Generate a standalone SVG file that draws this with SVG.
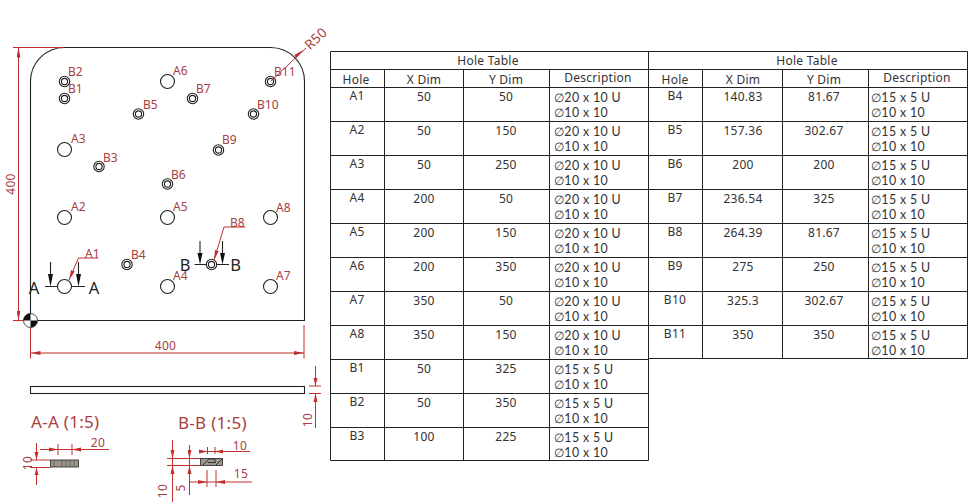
<svg xmlns="http://www.w3.org/2000/svg" width="972" height="502" viewBox="0 0 972 502">
<style>
text{font-family:"Noto Sans","Liberation Sans",sans-serif}
.obj{fill:none;stroke:#222;stroke-width:1.1}
.dim{fill:none;stroke:#c0302f;stroke-width:1}
.ah{fill:#c0302f;stroke:none}
.lbl{font-size:12px;fill:#a8403f}
.dt{font-size:12px;fill:#a8403f;text-anchor:middle;letter-spacing:.3px}
.big{font-size:17px;fill:#a8403f;letter-spacing:.3px}
.sec{font-size:16.500px;fill:#222;text-anchor:middle}
.tb{fill:none;stroke:#222;stroke-width:1}
.c{font-size:12px;fill:#333;text-anchor:middle;letter-spacing:.25px}
.d{font-family:Lato,"Noto Sans",sans-serif;font-size:12.400px;fill:#333;letter-spacing:.35px}
.hatch{fill:#9c958c;stroke:#222;stroke-width:.8}
</style>
<defs>
<marker id="a" viewBox="0 0 10 4" refX="10" refY="2" markerWidth="10" markerHeight="4" orient="auto-start-reverse" markerUnits="userSpaceOnUse"><path d="M0 0L10 2L0 4Z" fill="#c0302f"/></marker>
<g id="holeA"><circle r="7" fill="#fff" stroke="#222" stroke-width="1.1"/></g>
<g id="holeB"><circle r="5.200" fill="#fff" stroke="#222" stroke-width="1.1"/><circle r="3.100" fill="#fff" stroke="#222" stroke-width="1.1"/></g>
</defs>

<g id="plate">
<path class="obj" d="M30.500 81.500A34 34 0 0 1 64.500 47.500H270.500A34 34 0 0 1 304.500 81.500V320.500H30.500Z"/>
<circle cx="30.500" cy="320.500" r="7" fill="#fff" stroke="#222" stroke-width=".8"/>
<path d="M30.500 320.500V313.500A7 7 0 0 0 23.500 320.500ZM30.500 320.500V327.500A7 7 0 0 0 37.500 320.500Z" fill="#111"/>
</g>

<g id="holes">
<use href="#holeA" x="64.500" y="286.500"/><use href="#holeA" x="64.500" y="217.500"/><use href="#holeA" x="64.500" y="149.500"/>
<use href="#holeA" x="167.500" y="286.500"/><use href="#holeA" x="167.500" y="217.500"/><use href="#holeA" x="167.500" y="81.500"/>
<use href="#holeA" x="270.500" y="286.500"/><use href="#holeA" x="270.500" y="217.500"/>
<use href="#holeB" x="64.500" y="98.500"/><use href="#holeB" x="64.500" y="81.500"/><use href="#holeB" x="99" y="166.500"/>
<use href="#holeB" x="127" y="264.500"/><use href="#holeB" x="138.500" y="114"/><use href="#holeB" x="167.500" y="184"/>
<use href="#holeB" x="192.500" y="98.500"/><use href="#holeB" x="211.500" y="264.500"/><use href="#holeB" x="218.500" y="150"/>
<use href="#holeB" x="253.500" y="114"/><use href="#holeB" x="270.500" y="81.500"/>
</g>

<g id="hole-labels">
<text class="lbl" x="68" y="76">B2</text><text class="lbl" x="68" y="93">B1</text><text class="lbl" x="173" y="75">A6</text>
<text class="lbl" x="196" y="93">B7</text><text class="lbl" x="274" y="76">B11</text><text class="lbl" x="143" y="109">B5</text>
<text class="lbl" x="257" y="109">B10</text><text class="lbl" x="71" y="143">A3</text><text class="lbl" x="222" y="144">B9</text>
<text class="lbl" x="103" y="162">B3</text><text class="lbl" x="171" y="179">B6</text><text class="lbl" x="71" y="211">A2</text>
<text class="lbl" x="173" y="211">A5</text><text class="lbl" x="276" y="212">A8</text><text class="lbl" x="230" y="227">B8</text>
<text class="lbl" x="85" y="258">A1</text><text class="lbl" x="131" y="259">B4</text><text class="lbl" x="173" y="280">A4</text><text class="lbl" x="276" y="280">A7</text>
</g>

<g id="section-marks">
<path class="obj" d="M45 286.500H57.500M72 286.500H85M194.500 264.500H206.500M216.500 264.500H229"/>
<path class="obj" d="M50.500 262V280M78.500 262V280M200 241V258M222.500 241V258"/>
<path d="M48 274H53L50.500 286.500ZM76 274H81L78.500 286.500ZM197.500 253H202.500L200 264.500ZM220 253H225L222.500 264.500Z" fill="#111"/>
<text class="sec" x="34" y="294">A</text><text class="sec" x="94" y="294">A</text><text class="sec" x="185" y="271">B</text><text class="sec" x="235.500" y="271">B</text>
</g>

<g id="connectors">
<path class="dim" d="M13 47.500H63M13 320.500H24"/>
<path class="dim" d="M18.500 47.500V320.500" marker-start="url(#a)" marker-end="url(#a)"/>
<path class="dim" d="M30.500 328V358.500M304 325V358.500"/>
<path class="dim" d="M30.500 353H304" marker-start="url(#a)" marker-end="url(#a)"/>
<path class="dim" d="M270.500 81.500L306 48"/>
<path d="M296 58.500L303 50L294.500 55Z" class="ah"/>
<path class="dim" d="M98.500 258H78.500L69 280" marker-end="url(#a)"/>
<path class="dim" d="M245.500 227H224L214 260" marker-end="url(#a)"/>
<text class="dt" x="165.500" y="350">400</text>
<text class="dt" transform="translate(15 184) rotate(-90)">400</text>
<text class="dt" transform="translate(319 42) rotate(-43)" style="font-size:13.500px">R50</text>
</g>

<g id="side-view">
<rect class="obj" x="30.500" y="386.500" width="274" height="7" stroke-width="1.300"/>
<path class="dim" d="M309 386H321M309 393.500H321M315.500 366V386M315.500 393.500V428"/>
<path d="M313.500 378H317.500L315.500 386ZM313.500 402H317.500L315.500 393.500Z" class="ah"/>
<text class="dt" transform="translate(312 420) rotate(-90)">10</text>
</g>

<g id="section-aa">
<text class="big" x="31" y="428">A-A (1:5)</text>
<rect class="hatch" x="50.500" y="460" width="28" height="7"/>
<path d="M54 460V467M62 460V467M66 460V467M70 460V467M74 460V467" stroke="#555" stroke-width=".7" fill="none"/>
<path class="dim" d="M58 444V455M72 444V455M40 449.500H109M30 460H50M30 467.500H50"/>
<path class="dim" d="M36.500 443V460M36.500 467.500V485"/>
<path d="M49 447.500L58 449.500L49 451.500ZM81 447.500L72 449.500L81 451.500ZM34.500 452L36.500 460L38.500 452ZM34.500 475L36.500 467.500L38.500 475Z" class="ah"/>
<text class="dt" x="98" y="447">20</text>
<text class="dt" transform="translate(32 463) rotate(-90)">10</text>
</g>

<g id="section-bb">
<text class="big" x="178" y="429">B-B (1:5)</text>
<rect class="hatch" x="200.500" y="458.500" width="22" height="7"/>
<path d="M203 465L209 459M216 465L222 459M208 462.500H216M209 459H215V462" fill="none" stroke="#222" stroke-width=".8"/>
<path class="dim" d="M207.500 447V454M215 447V454M200 451.500H250M167 458.500H200M167 465.500H200M172.500 440V502M189.500 445V495"/>
<path class="dim" d="M207 470V487M216 470V487M189.500 482H252"/>
<path d="M199 449.500L207.500 451.500L199 453.500ZM223 449.500L215 451.500L223 453.500ZM170.500 450L172.500 458.500L174.500 450ZM170.500 474L172.500 465.500L174.500 474ZM187.500 450L189.500 458.500L191.500 450ZM187.500 474L189.500 465.500L191.500 474ZM198 480L207 482L198 484ZM225 480L216 482L225 484Z" class="ah"/>
<text class="dt" x="240" y="450">10</text>
<text class="dt" x="241" y="478">15</text>
<text class="dt" transform="translate(167 491) rotate(-90)">10</text>
<text class="dt" transform="translate(185 488) rotate(-90)">5</text>
</g>

<g id="table-1">
<path class="tb" d="M330.500 51.500H648.500V460.500H330.500ZM330.500 69.500H648.500M330.500 87.500H648.500M330.500 121.500H648.500M330.500 155.500H648.500M330.500 189.500H648.500M330.500 223.500H648.500M330.500 257.500H648.500M330.500 291.500H648.500M330.500 325.500H648.500M330.500 359.500H648.500M330.500 393.500H648.500M330.500 427.500H648.500M384.500 69.500V460.500M463.500 69.500V460.500M549.500 69.500V460.500"/>
<text class="c" x="488" y="65">Hole Table</text>
<text class="c" x="356" y="84">Hole</text><text class="c" x="424" y="84">X Dim</text><text class="c" x="506" y="84">Y Dim</text><text class="c" x="598" y="82">Description</text>
<text class="c" x="357" y="100">A1</text><text class="c" x="424" y="101">50</text><text class="c" x="506" y="101">50</text><text class="d" x="554" y="102">∅20 x 10 U</text><text class="d" x="554" y="117">∅10 x 10</text>
<text class="c" x="357" y="134">A2</text><text class="c" x="424" y="135">50</text><text class="c" x="506" y="135">150</text><text class="d" x="554" y="136">∅20 x 10 U</text><text class="d" x="554" y="151">∅10 x 10</text>
<text class="c" x="357" y="168">A3</text><text class="c" x="424" y="169">50</text><text class="c" x="506" y="169">250</text><text class="d" x="554" y="170">∅20 x 10 U</text><text class="d" x="554" y="185">∅10 x 10</text>
<text class="c" x="357" y="202">A4</text><text class="c" x="424" y="203">200</text><text class="c" x="506" y="203">50</text><text class="d" x="554" y="204">∅20 x 10 U</text><text class="d" x="554" y="219">∅10 x 10</text>
<text class="c" x="357" y="236">A5</text><text class="c" x="424" y="237">200</text><text class="c" x="506" y="237">150</text><text class="d" x="554" y="238">∅20 x 10 U</text><text class="d" x="554" y="253">∅10 x 10</text>
<text class="c" x="357" y="270">A6</text><text class="c" x="424" y="271">200</text><text class="c" x="506" y="271">350</text><text class="d" x="554" y="272">∅20 x 10 U</text><text class="d" x="554" y="287">∅10 x 10</text>
<text class="c" x="357" y="304">A7</text><text class="c" x="424" y="305">350</text><text class="c" x="506" y="305">50</text><text class="d" x="554" y="306">∅20 x 10 U</text><text class="d" x="554" y="321">∅10 x 10</text>
<text class="c" x="357" y="338">A8</text><text class="c" x="424" y="339">350</text><text class="c" x="506" y="339">150</text><text class="d" x="554" y="340">∅20 x 10 U</text><text class="d" x="554" y="355">∅10 x 10</text>
<text class="c" x="357" y="372">B1</text><text class="c" x="424" y="373">50</text><text class="c" x="506" y="373">325</text><text class="d" x="554" y="374">∅15 x 5 U</text><text class="d" x="554" y="389">∅10 x 10</text>
<text class="c" x="357" y="406">B2</text><text class="c" x="424" y="407">50</text><text class="c" x="506" y="407">350</text><text class="d" x="554" y="408">∅15 x 5 U</text><text class="d" x="554" y="423">∅10 x 10</text>
<text class="c" x="357" y="440">B3</text><text class="c" x="424" y="441">100</text><text class="c" x="506" y="441">225</text><text class="d" x="554" y="442">∅15 x 5 U</text><text class="d" x="554" y="457">∅10 x 10</text>
</g>

<g id="table-2">
<path class="tb" d="M648.500 51.500H967.500V358.500H648.500ZM648.500 69.500H967.500M648.500 87.500H967.500M648.500 121.500H967.500M648.500 155.500H967.500M648.500 189.500H967.500M648.500 223.500H967.500M648.500 257.500H967.500M648.500 291.500H967.500M648.500 325.500H967.500M702.500 69.500V358.500M782.500 69.500V358.500M868.500 69.500V358.500"/>
<text class="c" x="807" y="65">Hole Table</text>
<text class="c" x="675" y="84">Hole</text><text class="c" x="743" y="84">X Dim</text><text class="c" x="824" y="84">Y Dim</text><text class="c" x="917" y="82">Description</text>
<text class="c" x="675" y="100">B4</text><text class="c" x="743" y="101">140.83</text><text class="c" x="824" y="101">81.67</text><text class="d" x="871" y="102">∅15 x 5 U</text><text class="d" x="871" y="117">∅10 x 10</text>
<text class="c" x="675" y="134">B5</text><text class="c" x="743" y="135">157.36</text><text class="c" x="824" y="135">302.67</text><text class="d" x="871" y="136">∅15 x 5 U</text><text class="d" x="871" y="151">∅10 x 10</text>
<text class="c" x="675" y="168">B6</text><text class="c" x="743" y="169">200</text><text class="c" x="824" y="169">200</text><text class="d" x="871" y="170">∅15 x 5 U</text><text class="d" x="871" y="185">∅10 x 10</text>
<text class="c" x="675" y="202">B7</text><text class="c" x="743" y="203">236.54</text><text class="c" x="824" y="203">325</text><text class="d" x="871" y="204">∅15 x 5 U</text><text class="d" x="871" y="219">∅10 x 10</text>
<text class="c" x="675" y="236">B8</text><text class="c" x="743" y="237">264.39</text><text class="c" x="824" y="237">81.67</text><text class="d" x="871" y="238">∅15 x 5 U</text><text class="d" x="871" y="253">∅10 x 10</text>
<text class="c" x="675" y="270">B9</text><text class="c" x="743" y="271">275</text><text class="c" x="824" y="271">250</text><text class="d" x="871" y="272">∅15 x 5 U</text><text class="d" x="871" y="287">∅10 x 10</text>
<text class="c" x="675" y="304">B10</text><text class="c" x="743" y="305">325.3</text><text class="c" x="824" y="305">302.67</text><text class="d" x="871" y="306">∅15 x 5 U</text><text class="d" x="871" y="321">∅10 x 10</text>
<text class="c" x="675" y="338">B11</text><text class="c" x="743" y="339">350</text><text class="c" x="824" y="339">350</text><text class="d" x="871" y="340">∅15 x 5 U</text><text class="d" x="871" y="355">∅10 x 10</text>
</g>
</svg>
